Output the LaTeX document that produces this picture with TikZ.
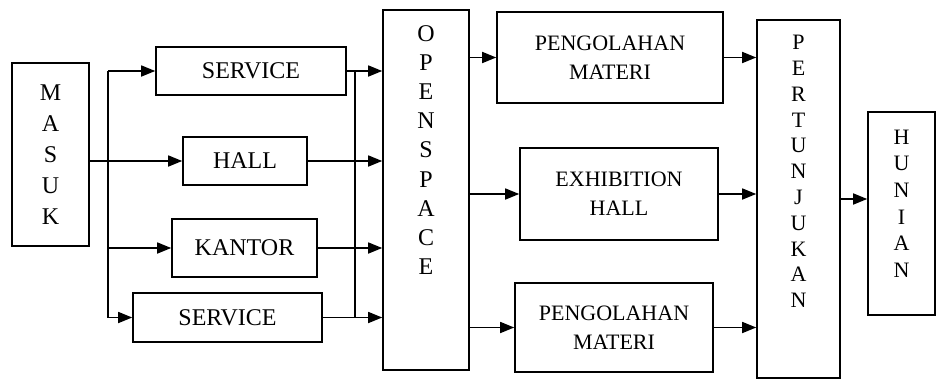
\documentclass[tikz,border=0pt]{standalone}
\usepackage{fontspec}
\setmainfont{Liberation Serif}
\usetikzlibrary{arrows.meta}

\tikzset{
  box/.style={draw, rectangle, inner sep=0pt, align=center},
  vtext/.style={align=center, inner sep=0pt},
  flow/.style={-{Triangle[length=7pt,width=5.5pt]}},
}

\begin{document}
\begin{tikzpicture}[x=0.5pt, y=-0.5pt, line width=0.8pt,
    font=\fontsize{12}{14.5}\selectfont]
  \useasboundingbox (0,0) rectangle (936,380);

  % first column
  \node[box, minimum width=38.5pt, minimum height=91.5pt,
    font=\fontsize{12}{15.5}\selectfont] (masuk) at (50.5,154.5) {M\\A\\S\\U\\K};

  \node[box, minimum width=95pt, minimum height=24pt] (svctop) at (251,71) {SERVICE};
  \node[box, minimum width=62pt, minimum height=24pt] (hall) at (245,161) {HALL};
  \node[box, minimum width=72.5pt, minimum height=29pt] (kantor) at (244.5,248) {KANTOR};
  \node[box, minimum width=94.5pt, minimum height=24.5pt] (svcbot) at (227.5,317.5) {SERVICE};

  % open space
  \node[box, minimum width=43pt, minimum height=180pt] (osp) at (426,190) {};
  \node[vtext, font=\fontsize{12}{14.6}\selectfont] (osptxt) at (426,150)
    {O\\P\\E\\N\\S\\P\\A\\C\\E};

  \node[box, minimum width=113pt, minimum height=45.5pt,
    font=\fontsize{11}{14.5}\selectfont] (pmtop) at (610,57.5) {PENGOLAHAN\\MATERI};
  \node[box, minimum width=99pt, minimum height=46pt,
    font=\fontsize{11}{14.5}\selectfont] (exh) at (619,194) {EXHIBITION\\HALL};
  \node[box, minimum width=99pt, minimum height=44.5pt,
    font=\fontsize{11}{14.5}\selectfont] (pmbot) at (614,327.5) {PENGOLAHAN\\MATERI};

  % pertunjukan and hunian
  \node[box, minimum width=41.5pt, minimum height=179pt] (pert) at (798.5,199) {};
  \node[vtext, font=\fontsize{11}{12.9}\selectfont] (perttxt) at (798.5,171.5)
    {P\\E\\R\\T\\U\\N\\J\\U\\K\\A\\N};
  \node[box, minimum width=33.5pt, minimum height=101.5pt] (hun) at (901.5,213.5) {};
  \node[vtext, font=\fontsize{11}{13.3}\selectfont] (huntxt) at (901.5,203.5)
    {H\\U\\N\\I\\A\\N};

  % left bus
  \coordinate (lt) at (108,71);
  \coordinate (lb) at (108,317.5);
  \draw (lt) -- (lb);
  \draw[flow] (lt) -- (svctop.west);
  \draw[flow] (lb) -- (svcbot.west);
  \draw[flow] (lt |- kantor) -- (kantor.west);
  \draw[flow] (masuk.east |- hall) -- (hall.west);

  % right bus
  \coordinate (rt) at (355,71);
  \coordinate (rb) at (355,317.5);
  \draw (rt) -- (rb);
  \draw[flow] (svctop.east) -- (svctop.east -| osp.west);
  \draw[flow] (hall.east) -- (hall.east -| osp.west);
  \draw[flow] (kantor.east) -- (kantor.east -| osp.west);
  \draw[flow] (svcbot.east) -- (svcbot.east -| osp.west);

  % open space to rooms
  \draw[flow] (osp.east |- pmtop) -- (pmtop.west);
  \draw[flow] (osp.east |- exh) -- (exh.west);
  \draw[flow] (osp.east |- pmbot) -- (pmbot.west);

  \draw[flow] (pmtop.east) -- (pmtop.east -| pert.west);
  \draw[flow] (exh.east) -- (exh.east -| pert.west);
  \draw[flow] (pmbot.east) -- (pmbot.east -| pert.west);
  \draw[flow] (pert.east) -- (pert.east -| hun.west);
\end{tikzpicture}
\end{document}
